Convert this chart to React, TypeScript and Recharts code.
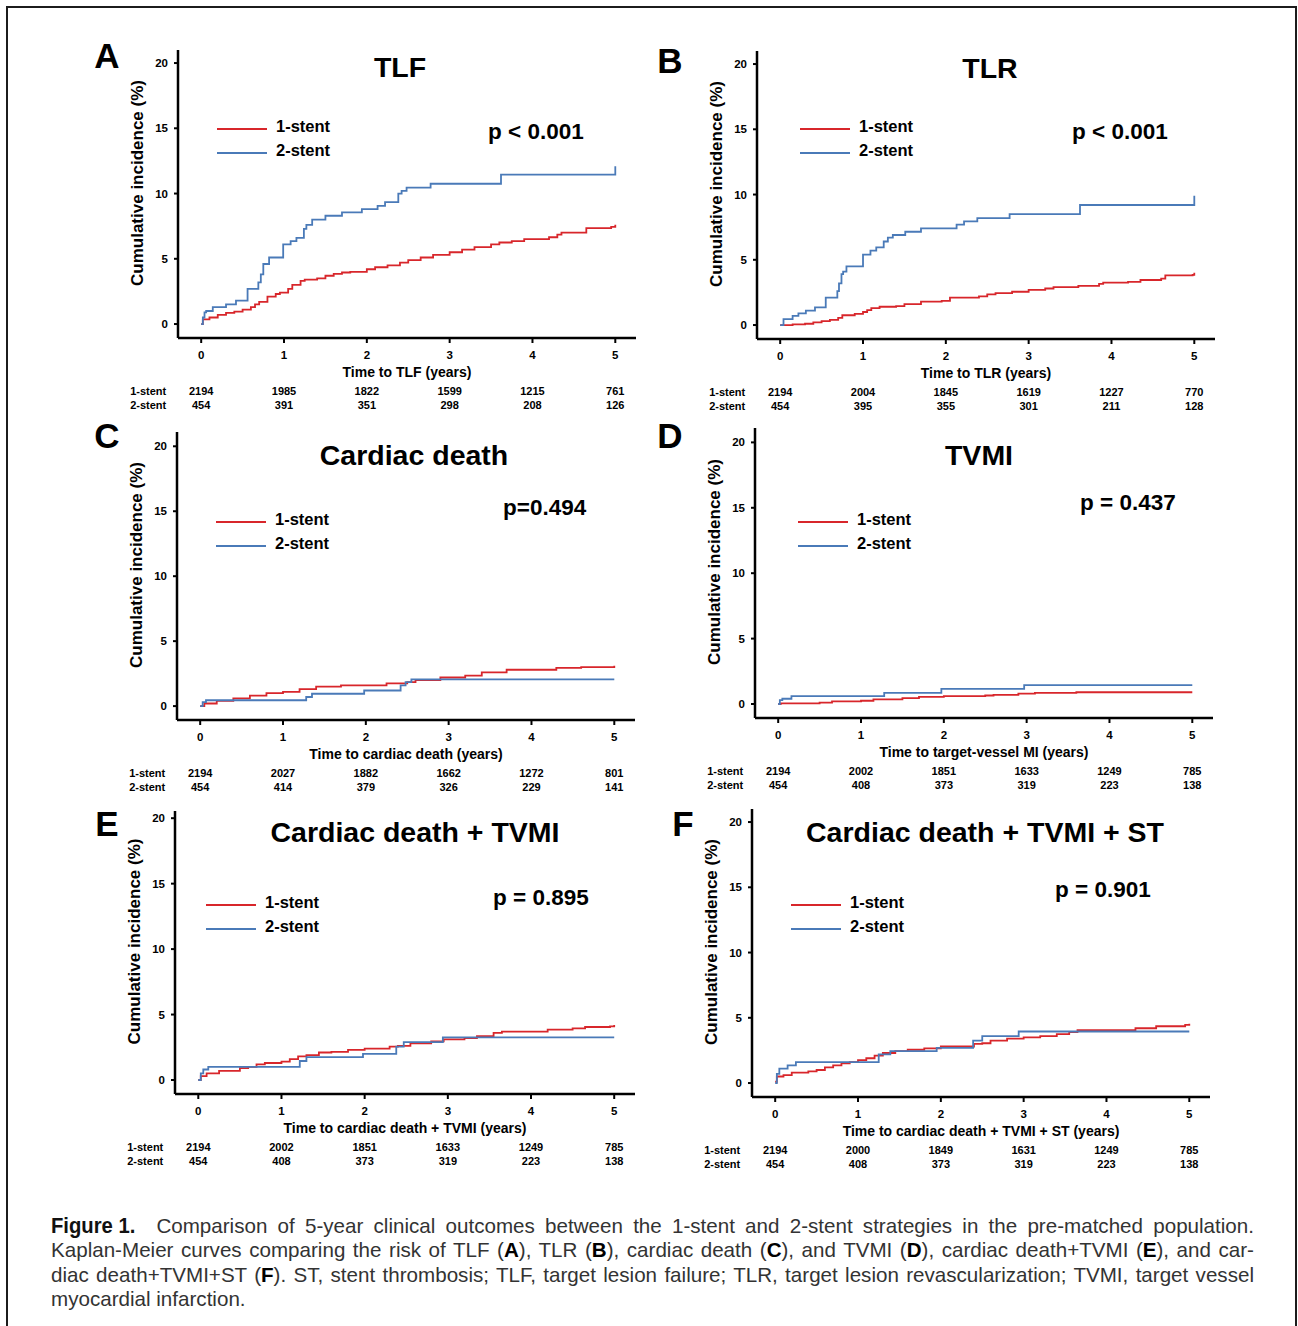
import React from 'react';
import { LineChart, Line, XAxis, YAxis, Legend } from 'recharts';

// shared ticks / group names
const yearTicks = [0, 1, 2, 3, 4, 5];
const pctTicks = [0, 5, 10, 15, 20];
const groupNames = ['1-stent', '2-stent'];

// A - TLF  ([years, cumulative %])
const tlfOne = [[0, 0], [0.02, 0.35], [0.1, 0.5], [0.2, 0.7], [0.3, 0.85], [0.4, 0.95], [0.5, 1.1], [0.6, 1.3], [0.65, 1.5], [0.7, 1.7], [0.8, 2.1], [0.9, 2.3], [0.95, 2.4], [1.05, 2.7], [1.1, 3.0], [1.2, 3.3], [1.25, 3.4], [1.4, 3.5], [1.5, 3.7], [1.6, 3.85], [1.7, 3.95], [1.8, 4.0], [2.0, 4.2], [2.1, 4.35], [2.25, 4.5], [2.4, 4.7], [2.5, 4.9], [2.65, 5.1], [2.8, 5.3], [3.0, 5.5], [3.15, 5.7], [3.3, 5.9], [3.5, 6.1], [3.6, 6.25], [3.75, 6.35], [3.9, 6.5], [4.2, 6.65], [4.3, 6.85], [4.35, 7.0], [4.65, 7.35], [4.95, 7.45], [5.0, 7.6]];
const tlfTwo = [[0, 0], [0.02, 0.5], [0.04, 0.9], [0.06, 1.0], [0.14, 1.3], [0.3, 1.5], [0.42, 1.8], [0.56, 2.7], [0.69, 3.2], [0.72, 3.8], [0.75, 4.6], [0.82, 5.1], [0.99, 6.1], [1.08, 6.35], [1.15, 6.6], [1.24, 7.3], [1.27, 7.6], [1.34, 8.0], [1.5, 8.3], [1.7, 8.55], [1.94, 8.8], [2.13, 9.05], [2.22, 9.35], [2.38, 10.0], [2.42, 10.2], [2.48, 10.45], [2.77, 10.75], [3.62, 11.45], [5.0, 12.1]];
const tlfRiskOne = [2194, 1985, 1822, 1599, 1215, 761];
const tlfRiskTwo = [454, 391, 351, 298, 208, 126];

// B - TLR
const tlrOne = [[0, 0], [0.15, 0.05], [0.3, 0.1], [0.4, 0.2], [0.5, 0.3], [0.6, 0.4], [0.7, 0.55], [0.75, 0.75], [0.9, 0.85], [1.0, 1.0], [1.05, 1.15], [1.1, 1.3], [1.2, 1.4], [1.4, 1.45], [1.5, 1.6], [1.7, 1.8], [1.95, 1.85], [2.05, 2.1], [2.4, 2.2], [2.5, 2.35], [2.6, 2.45], [2.8, 2.55], [3.0, 2.7], [3.2, 2.8], [3.3, 2.9], [3.6, 3.0], [3.85, 3.15], [3.9, 3.25], [4.2, 3.3], [4.35, 3.45], [4.6, 3.55], [4.65, 3.8], [4.98, 3.85], [5.0, 4.0]];
const tlrTwo = [[0, 0], [0.04, 0.46], [0.15, 0.7], [0.22, 0.9], [0.31, 1.1], [0.42, 1.35], [0.55, 2.1], [0.69, 2.6], [0.71, 3.2], [0.74, 3.9], [0.76, 4.1], [0.8, 4.5], [1.0, 5.4], [1.09, 5.7], [1.16, 5.95], [1.25, 6.4], [1.3, 6.7], [1.36, 6.9], [1.51, 7.15], [1.7, 7.4], [2.13, 7.7], [2.22, 7.95], [2.38, 8.2], [2.77, 8.5], [3.62, 9.2], [5.0, 9.9]];
const tlrRiskOne = [2194, 2004, 1845, 1619, 1227, 770];
const tlrRiskTwo = [454, 395, 355, 301, 211, 128];

// C - cardiac death
const cdOne = [[0, 0], [0.05, 0.2], [0.2, 0.4], [0.4, 0.6], [0.6, 0.8], [0.8, 1.0], [1.0, 1.1], [1.2, 1.3], [1.4, 1.5], [1.7, 1.6], [2.25, 1.75], [2.5, 1.85], [2.6, 2.0], [2.9, 2.2], [3.2, 2.35], [3.4, 2.6], [3.7, 2.8], [4.3, 2.95], [4.6, 3.0], [5.0, 3.1]];
const cdTwo = [[0, 0], [0.03, 0.3], [0.07, 0.45], [1.28, 0.7], [1.35, 0.95], [1.98, 1.2], [2.42, 1.6], [2.48, 1.85], [2.55, 2.05], [5.0, 2.05]];
const cdRiskOne = [2194, 2027, 1882, 1662, 1272, 801];
const cdRiskTwo = [454, 414, 379, 326, 229, 141];

// D - TVMI
const tvmiOne = [[0, 0], [0.03, 0.05], [0.5, 0.1], [0.65, 0.2], [1.0, 0.25], [1.15, 0.35], [1.5, 0.45], [1.7, 0.55], [2.0, 0.6], [2.5, 0.65], [2.6, 0.7], [2.9, 0.8], [3.1, 0.85], [3.6, 0.9], [5.0, 0.9]];
const tvmiTwo = [[0, 0], [0.02, 0.3], [0.05, 0.4], [0.16, 0.6], [1.28, 0.85], [1.97, 1.15], [2.97, 1.45], [5.0, 1.45]];
const tvmiRiskOne = [2194, 2002, 1851, 1633, 1249, 785];
const tvmiRiskTwo = [454, 408, 373, 319, 223, 138];

// E - cardiac death + TVMI
const cdmiOne = [[0, 0], [0.03, 0.3], [0.1, 0.5], [0.25, 0.7], [0.5, 0.9], [0.6, 1.0], [0.7, 1.2], [0.8, 1.3], [1.0, 1.4], [1.1, 1.6], [1.2, 1.8], [1.3, 1.9], [1.45, 2.1], [1.6, 2.15], [1.8, 2.3], [2.0, 2.4], [2.3, 2.55], [2.4, 2.6], [2.55, 2.8], [2.8, 2.95], [2.95, 3.1], [3.2, 3.2], [3.35, 3.35], [3.55, 3.6], [3.65, 3.7], [4.2, 3.85], [4.5, 3.95], [4.65, 4.05], [4.95, 4.1], [5.0, 4.2]];
const cdmiTwo = [[0, 0], [0.03, 0.5], [0.06, 0.8], [0.12, 1.0], [1.22, 1.45], [1.3, 1.75], [1.98, 2.0], [2.38, 2.55], [2.47, 2.9], [2.94, 3.25], [5.0, 3.25]];
const cdmiRiskOne = [2194, 2002, 1851, 1633, 1249, 785];
const cdmiRiskTwo = [454, 408, 373, 319, 223, 138];

// F - cardiac death + TVMI + ST
const cdmistOne = [[0, 0.1], [0.02, 0.5], [0.1, 0.6], [0.2, 0.8], [0.4, 0.9], [0.5, 1.0], [0.6, 1.2], [0.7, 1.35], [0.8, 1.5], [0.9, 1.6], [1.0, 1.75], [1.1, 1.9], [1.2, 2.1], [1.3, 2.3], [1.45, 2.45], [1.6, 2.55], [1.8, 2.65], [2.0, 2.8], [2.4, 3.0], [2.5, 3.05], [2.6, 3.25], [2.8, 3.4], [3.0, 3.5], [3.2, 3.6], [3.4, 3.75], [3.55, 3.9], [3.65, 4.05], [4.35, 4.2], [4.6, 4.35], [4.95, 4.45], [5.0, 4.55]];
const cdmistTwo = [[0, 0], [0.02, 0.7], [0.05, 1.1], [0.15, 1.35], [0.25, 1.6], [1.25, 2.2], [1.39, 2.45], [1.95, 2.7], [2.39, 3.25], [2.5, 3.6], [2.94, 3.95], [5.0, 3.95]];
const cdmistRiskOne = [2194, 2000, 1849, 1631, 1249, 785];
const cdmistRiskTwo = [454, 408, 373, 319, 223, 138];

const FONT = '"Liberation Sans", Arial, Helvetica, sans-serif';
const RED = '#d8262b';
const BLUE = '#4a7ab8';
const PAD_L = 100;
const PAD_T = 20;
const PAD_R = 20;
const X_H = 80;

const panels = [
  { letter: 'A', title: 'TLF', pText: 'p < 0.001', xTitle: 'Time to TLF (years)', one: tlfOne, two: tlfTwo, riskOne: tlfRiskOne, riskTwo: tlfRiskTwo,
    box: { l: 178, t: 50, w: 458, h: 288 }, yMax: 21, letterAt: [107, 55], titleAt: [400, 67], pAt: [488, 132], legendAt: [217, 129] },
  { letter: 'B', title: 'TLR', pText: 'p < 0.001', xTitle: 'Time to TLR (years)', one: tlrOne, two: tlrTwo, riskOne: tlrRiskOne, riskTwo: tlrRiskTwo,
    box: { l: 757, t: 51, w: 458, h: 288 }, yMax: 21, letterAt: [670, 60], titleAt: [990, 68], pAt: [1072, 132], legendAt: [800, 129] },
  { letter: 'C', title: 'Cardiac death', pText: 'p=0.494', xTitle: 'Time to cardiac death (years)', one: cdOne, two: cdTwo, riskOne: cdRiskOne, riskTwo: cdRiskTwo,
    box: { l: 177, t: 432, w: 458, h: 288 }, yMax: 21.1, letterAt: [107, 435], titleAt: [414, 455], pAt: [503, 508], legendAt: [216, 522] },
  { letter: 'D', title: 'TVMI', pText: 'p = 0.437', xTitle: 'Time to target-vessel MI (years)', one: tvmiOne, two: tvmiTwo, riskOne: tvmiRiskOne, riskTwo: tvmiRiskTwo,
    box: { l: 755, t: 428, w: 458, h: 290 }, yMax: 21.1, letterAt: [670, 435], titleAt: [979, 455], pAt: [1080, 503], legendAt: [798, 522] },
  { letter: 'E', title: 'Cardiac death + TVMI', pText: 'p = 0.895', xTitle: 'Time to cardiac death + TVMI (years)', one: cdmiOne, two: cdmiTwo, riskOne: cdmiRiskOne, riskTwo: cdmiRiskTwo,
    box: { l: 175, t: 811, w: 460, h: 283 }, yMax: 20.55, letterAt: [107, 823], titleAt: [415, 832], pAt: [493, 898], legendAt: [206, 905] },
  { letter: 'F', title: 'Cardiac death + TVMI + ST', pText: 'p = 0.901', xTitle: 'Time to cardiac death + TVMI + ST (years)', one: cdmistOne, two: cdmistTwo, riskOne: cdmistRiskOne, riskTwo: cdmistRiskTwo,
    box: { l: 752, t: 809, w: 458, h: 288 }, yMax: 21, letterAt: [683, 823], titleAt: [985, 832], pAt: [1055, 890], legendAt: [791, 905] },
];

const toRows = (pts: number[][]) => pts.map(([t, v]) => ({ t, v }));

function KMPanel({ p }: { p: any }) {
  const { box } = p;
  const chartLeft = box.l - PAD_L;
  const chartTop = box.t - PAD_T;

  // tick label + numbers at risk under each year
  const yearTick = (props: any) => {
    const { x, y, payload } = props;
    const i = yearTicks.indexOf(payload.value);
    return (
      <g fontFamily={FONT} fontWeight="bold" fill="#000">
        <text x={x} y={y + 6.5} textAnchor="middle" dominantBaseline="central" fontSize={11.5}>{payload.value}</text>
        <text x={x} y={y + 43} textAnchor="middle" dominantBaseline="central" fontSize={11}>{p.riskOne[i]}</text>
        <text x={x} y={y + 57} textAnchor="middle" dominantBaseline="central" fontSize={11}>{p.riskTwo[i]}</text>
        {i === 0 && (
          <>
            <text x={x - 35} y={y + 43} textAnchor="end" dominantBaseline="central" fontSize={11}>{groupNames[0]}</text>
            <text x={x - 35} y={y + 57} textAnchor="end" dominantBaseline="central" fontSize={11}>{groupNames[1]}</text>
          </>
        )}
      </g>
    );
  };

  const xTitle = (props: any) => {
    const vb = props.viewBox;
    return (
      <text x={vb.x + vb.width / 2} y={vb.y + 34} textAnchor="middle" dominantBaseline="central"
        fontFamily={FONT} fontWeight="bold" fontSize={14} fill="#000">{p.xTitle}</text>
    );
  };

  const yTitle = (props: any) => {
    const vb = props.viewBox;
    const cx = vb.x + vb.width - 41;
    const cy = vb.y + vb.height / 2 - 11;
    return (
      <text x={cx} y={cy} transform={`rotate(-90 ${cx} ${cy})`} textAnchor="middle" dominantBaseline="central"
        fontFamily={FONT} fontWeight="bold" fontSize={17} fill="#000">Cumulative incidence (%)</text>
    );
  };

  const legendContent = (props: any) => (
    <div>
      {(props.payload || []).map((e: any) => (
        <div key={e.value} style={{ position: 'relative', height: 24, width: 130 }}>
          <div style={{ position: 'absolute', left: 0, top: 11, width: 50, height: 2, background: e.color }} />
          <div style={{ position: 'absolute', left: 59, top: 0, lineHeight: '18px', fontFamily: FONT, fontWeight: 'bold', fontSize: 16.5, color: '#000', whiteSpace: 'nowrap' }}>{e.value}</div>
        </div>
      ))}
    </div>
  );

  return (
    <>
      <div style={{ position: 'absolute', left: chartLeft, top: chartTop }}>
        <LineChart width={PAD_L + box.w + PAD_R} height={PAD_T + box.h + X_H}
          margin={{ top: PAD_T, right: PAD_R, left: PAD_L - 40, bottom: 0 }}>
          <XAxis dataKey="t" type="number" domain={[-0.28, 5.25]} ticks={yearTicks} interval={0} allowDataOverflow
            height={X_H} axisLine={{ stroke: '#000', strokeWidth: 2.5 }} tickLine={{ stroke: '#000', strokeWidth: 2 }}
            tickSize={5} tickMargin={5} tick={yearTick} label={{ content: xTitle }} />
          <YAxis type="number" domain={[-1.07, p.yMax]} ticks={pctTicks} interval={0} allowDataOverflow width={40}
            axisLine={{ stroke: '#000', strokeWidth: 2.5 }} tickLine={{ stroke: '#000', strokeWidth: 2 }} tickSize={4} tickMargin={6}
            tick={{ fill: '#000', fontSize: 11.5, fontWeight: 'bold', fontFamily: FONT }} label={{ content: yTitle }} />
          <Legend layout="vertical" align="center" verticalAlign="middle" content={legendContent}
            wrapperStyle={{ left: p.legendAt[0] - chartLeft, top: p.legendAt[1] - chartTop - 12, width: 140, bottom: 'auto', right: 'auto' }} />
          <Line data={toRows(p.one)} dataKey="v" name={groupNames[0]} type="stepAfter" stroke={RED} strokeWidth={1.8}
            dot={false} activeDot={false} isAnimationActive={false} />
          <Line data={toRows(p.two)} dataKey="v" name={groupNames[1]} type="stepAfter" stroke={BLUE} strokeWidth={1.8}
            dot={false} activeDot={false} isAnimationActive={false} />
        </LineChart>
      </div>
      <div style={{ position: 'absolute', left: p.letterAt[0], top: p.letterAt[1], transform: 'translate(-50%, -50%)',
        fontFamily: FONT, fontWeight: 'bold', fontSize: 35, lineHeight: 1 }}>{p.letter}</div>
      <div style={{ position: 'absolute', left: p.titleAt[0], top: p.titleAt[1], transform: 'translate(-50%, -50%)',
        fontFamily: FONT, fontWeight: 'bold', fontSize: 28.5, lineHeight: 1, whiteSpace: 'nowrap' }}>{p.title}</div>
      <div style={{ position: 'absolute', left: p.pAt[0], top: p.pAt[1], transform: 'translateY(-50%)',
        fontFamily: FONT, fontWeight: 'bold', fontSize: 22.5, lineHeight: 1, whiteSpace: 'nowrap' }}>{p.pText}</div>
    </>
  );
}

const captionLine: React.CSSProperties = {
  position: 'absolute', left: 51, width: 1203, fontFamily: FONT, fontSize: 20.6, color: '#333',
  whiteSpace: 'nowrap', textAlign: 'justify', textAlignLast: 'justify', lineHeight: '24px',
};
const bold: React.CSSProperties = { color: '#000', fontWeight: 'bold' };

export default function App() {
  return (
    <div style={{ position: 'absolute', left: 0, top: 0, width: 1298, height: 1326, overflow: 'hidden', background: '#fff' }}>
      <div style={{ position: 'absolute', left: 6, top: 6, width: 1291, height: 1340, border: '2px solid #1c1c1c', boxSizing: 'border-box' }} />
      {panels.map((p) => <KMPanel key={p.letter} p={p} />)}
      <div style={{ ...captionLine, top: 1214 }}>
        <span style={{ display: 'inline-block', fontWeight: 'bold', color: '#111', fontSize: 22.5, transform: 'scaleX(0.9)', transformOrigin: 'left center', marginRight: -9 }}>Figure 1.</span>{'\u2003'}Comparison of 5-year clinical outcomes between the 1-stent and 2-stent strategies in the pre-matched population.
      </div>
      <div style={{ ...captionLine, top: 1238 }}>
        Kaplan-Meier curves comparing the risk of TLF (<span style={bold}>A</span>), TLR (<span style={bold}>B</span>), cardiac death (<span style={bold}>C</span>), and TVMI (<span style={bold}>D</span>), cardiac death+TVMI (<span style={bold}>E</span>), and car-
      </div>
      <div style={{ ...captionLine, top: 1263 }}>
        diac death+TVMI+ST (<span style={bold}>F</span>). ST, stent thrombosis; TLF, target lesion failure; TLR, target lesion revascularization; TVMI, target vessel
      </div>
      <div style={{ ...captionLine, top: 1287, textAlignLast: 'left' }}>
        myocardial infarction.
      </div>
    </div>
  );
}
